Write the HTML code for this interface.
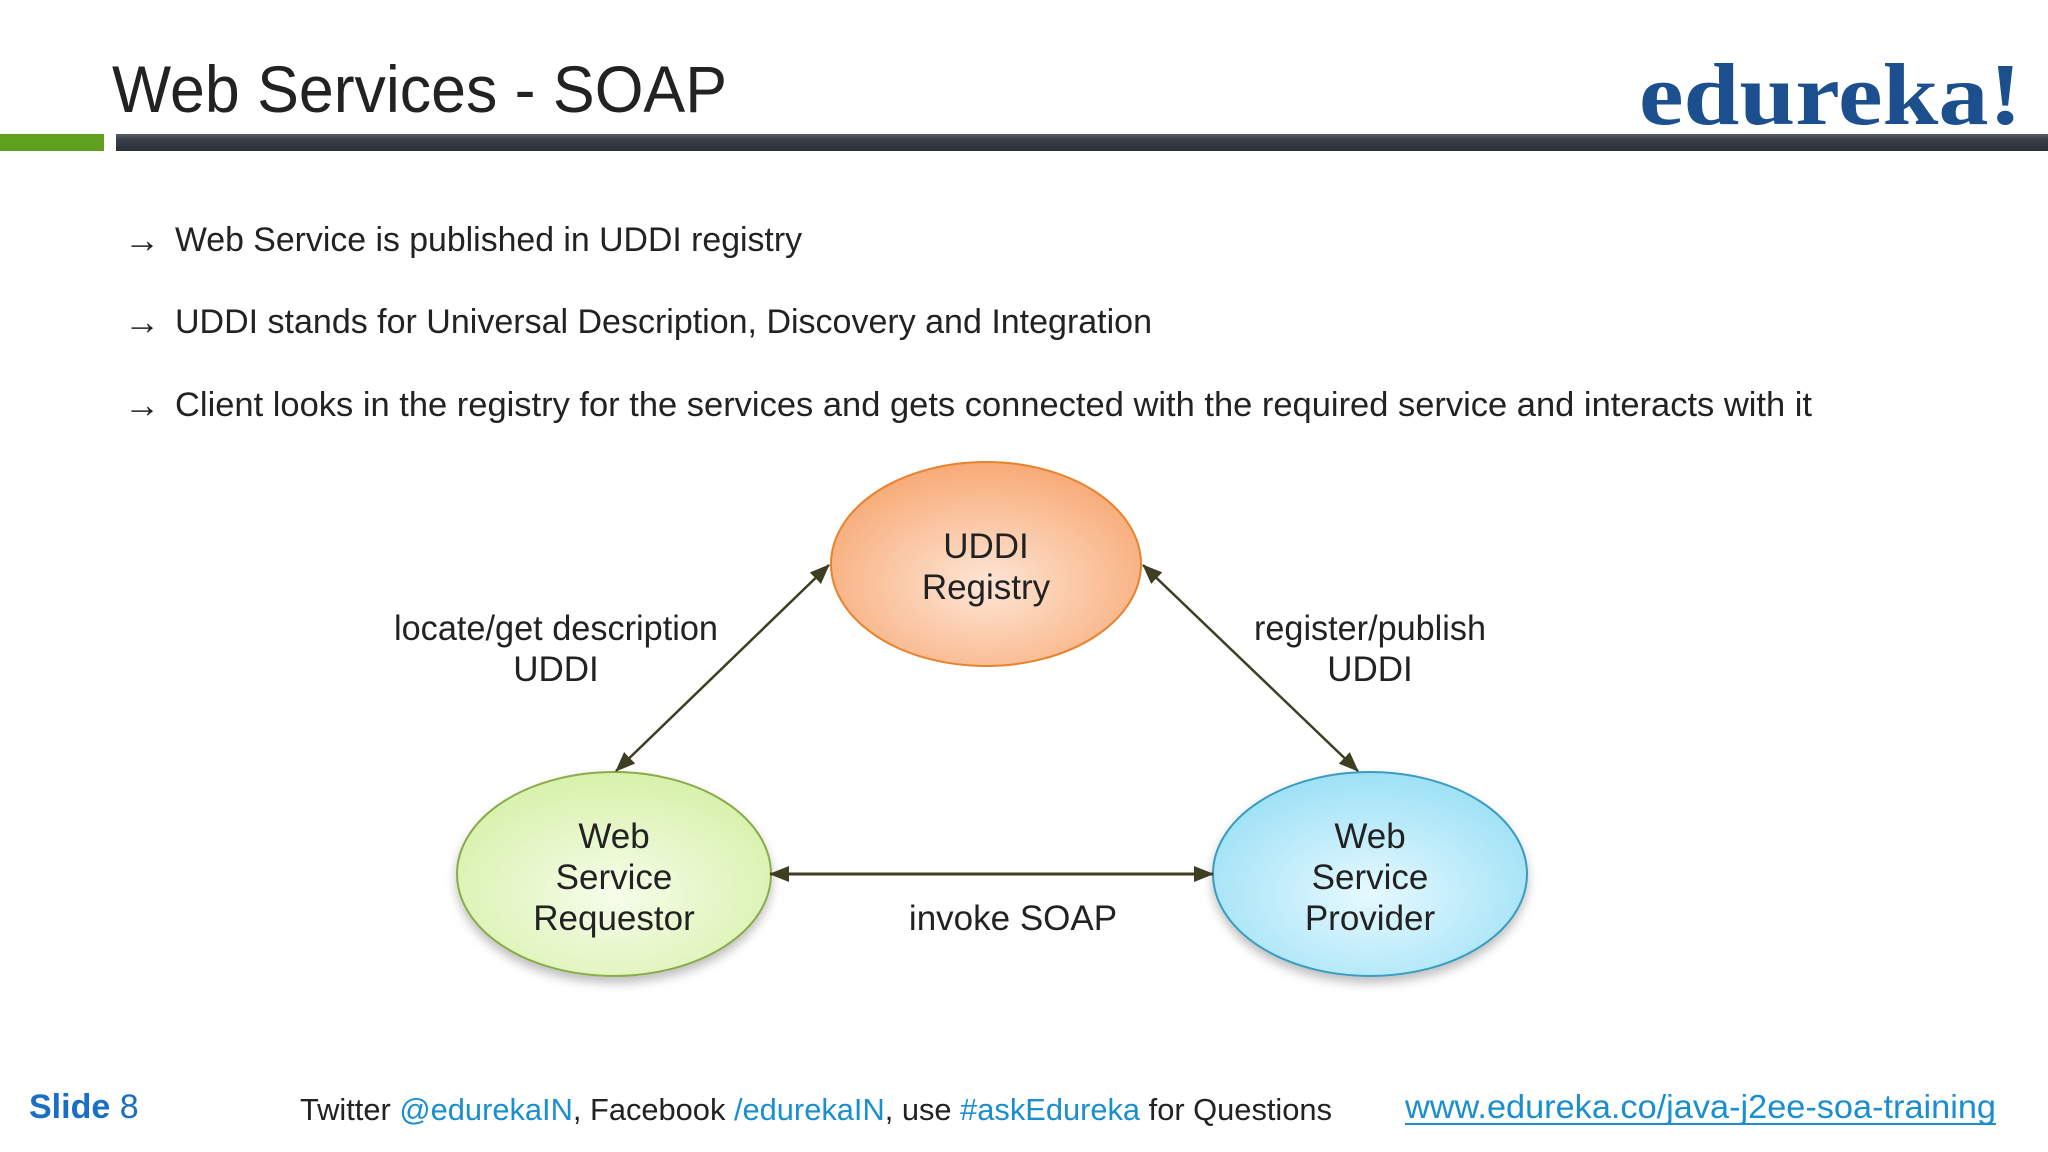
<!DOCTYPE html>
<html><head><meta charset="utf-8"><style>
html,body{margin:0;padding:0;background:#fff;}
svg{display:block;}
text{font-family:"Liberation Sans",sans-serif;fill:#222;}
</style></head><body>
<svg width="2048" height="1152" viewBox="0 0 2048 1152" xmlns="http://www.w3.org/2000/svg">
<defs>
<radialGradient id="go" cx="50%" cy="60%" r="65%"><stop offset="0" stop-color="#fde6d6"/><stop offset="1" stop-color="#f7a56e"/></radialGradient>
<radialGradient id="gg" cx="50%" cy="60%" r="65%"><stop offset="0" stop-color="#f6fdea"/><stop offset="1" stop-color="#d5f0a6"/></radialGradient>
<radialGradient id="gb" cx="50%" cy="60%" r="65%"><stop offset="0" stop-color="#e6f9ff"/><stop offset="1" stop-color="#97dff5"/></radialGradient>
<linearGradient id="bar" x1="0" y1="0" x2="0" y2="1"><stop offset="0" stop-color="#5a5f66"/><stop offset="0.3" stop-color="#3a3f48"/><stop offset="1" stop-color="#2b2f36"/></linearGradient>
<marker id="ah" markerWidth="20" markerHeight="20" refX="19" refY="10" orient="auto-start-reverse" markerUnits="userSpaceOnUse" viewBox="0 0 20 20"><path d="M0,2 L20,10 L0,18 z" fill="#3e3e22"/></marker>
<filter id="sh" x="-20%" y="-20%" width="140%" height="150%"><feDropShadow dx="0" dy="6" stdDeviation="5" flood-color="#000" flood-opacity="0.25"/></filter>
</defs>
<text x="112" y="112" font-size="66" textLength="615" lengthAdjust="spacingAndGlyphs">Web Services - SOAP</text>
<text x="1639" y="124" font-weight="bold" font-size="88" style="font-family:'Liberation Serif',serif;fill:#1b4f8e" textLength="383" lengthAdjust="spacingAndGlyphs">edureka!</text>
<rect x="0" y="134" width="104" height="17" fill="#5fa01e"/>
<rect x="116" y="134" width="1932" height="17" fill="url(#bar)"/>
<g font-size="34">
<text x="124" y="252" font-size="36">→</text><text x="175" y="251" textLength="627" lengthAdjust="spacingAndGlyphs">Web Service is published in UDDI registry</text>
<text x="124" y="334" font-size="36">→</text><text x="175" y="333" textLength="977" lengthAdjust="spacingAndGlyphs">UDDI stands for Universal Description, Discovery and Integration</text>
<text x="124" y="417" font-size="36">→</text><text x="175" y="416" textLength="1637" lengthAdjust="spacingAndGlyphs">Client looks in the registry for the services and gets connected with the required service and interacts with it</text>
</g>
<ellipse cx="986" cy="564" rx="155" ry="102" fill="url(#go)" stroke="#e8822c" stroke-width="2"/>
<ellipse cx="614" cy="874" rx="157" ry="102" fill="url(#gg)" stroke="#8aab4a" stroke-width="2" filter="url(#sh)"/>
<ellipse cx="1370" cy="874" rx="157" ry="102" fill="url(#gb)" stroke="#3a9cc0" stroke-width="2" filter="url(#sh)"/>
<line x1="616" y1="771" x2="829" y2="565" stroke="#3e3e22" stroke-width="2.5" marker-start="url(#ah)" marker-end="url(#ah)"/>
<line x1="1143" y1="565" x2="1358" y2="771" stroke="#3e3e22" stroke-width="2.5" marker-start="url(#ah)" marker-end="url(#ah)"/>
<line x1="770" y1="874" x2="1213" y2="874" stroke="#3e3e22" stroke-width="3" marker-start="url(#ah)" marker-end="url(#ah)"/>
<g font-size="35" text-anchor="middle">
<text x="986" y="558">UDDI</text><text x="986" y="599">Registry</text>
<text x="614" y="848">Web</text><text x="614" y="889">Service</text><text x="614" y="930">Requestor</text>
<text x="1370" y="848">Web</text><text x="1370" y="889">Service</text><text x="1370" y="930">Provider</text>
<text x="556" y="640" textLength="324" lengthAdjust="spacingAndGlyphs">locate/get description</text><text x="556" y="681">UDDI</text>
<text x="1370" y="640" textLength="232" lengthAdjust="spacingAndGlyphs">register/publish</text><text x="1370" y="681">UDDI</text>
<text x="1013" y="930">invoke SOAP</text>
</g>
<text x="29" y="1118" font-size="34"><tspan font-weight="bold" style="fill:#1a6fc4">Slide</tspan><tspan style="fill:#1a6fc4"> 8</tspan></text>
<text x="300" y="1120" font-size="31" textLength="1032" lengthAdjust="spacingAndGlyphs">Twitter <tspan style="fill:#1a8fd0">@edurekaIN</tspan>, Facebook <tspan style="fill:#1a8fd0">/edurekaIN</tspan>, use <tspan style="fill:#1a8fd0">#askEdureka</tspan> for Questions</text>
<text x="1405" y="1118" font-size="33" style="fill:#1a8fd0" textLength="591" lengthAdjust="spacingAndGlyphs">www.edureka.co/java-j2ee-soa-training</text>
<line x1="1405" y1="1124" x2="1996" y2="1124" stroke="#1a8fd0" stroke-width="2"/>
</svg>
</body></html>
